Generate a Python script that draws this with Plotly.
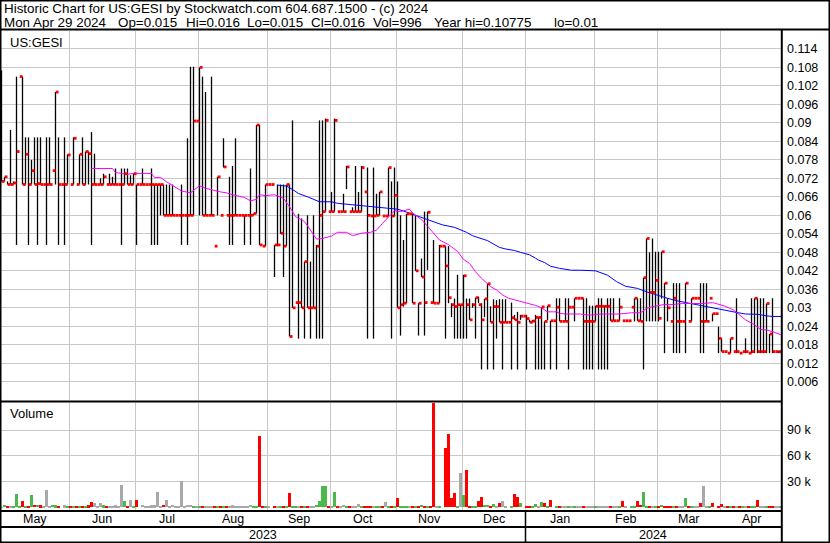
import pandas as pd
import plotly.graph_objects as go

# ---------------- data ----------------
dates = pd.bdate_range("2023-05-01", "2024-04-29")

high = [
0.107, 0.0725, 0.071, 0.0877, 0.071, 0.105, 0.105, 0.105, 0.0853, 0.0853,
0.078, 0.0853, 0.0853, 0.0853, 0.070, 0.0853, 0.0853, 0.0745, 0.100, 0.0853,
0.070, 0.0853, 0.0798, 0.070, 0.0853, 0.070, 0.0798, 0.0853, 0.0807, 0.0807,
0.087, 0.080, 0.070, 0.072, 0.0735, 0.070, 0.0735, 0.0725, 0.0752, 0.070,
0.0752, 0.0752, 0.0752, 0.073, 0.0735, 0.070, 0.070, 0.0752, 0.070, 0.070,
0.0752, 0.070, 0.070, 0.070, 0.070, 0.070, 0.070, 0.070, 0.060, 0.060,
0.070, 0.060, 0.085, 0.1082, 0.1082, 0.0906, 0.108, 0.105, 0.100, 0.060,
0.105, 0.050, 0.0725, 0.060, 0.085, 0.060, 0.0725, 0.076, 0.085, 0.060,
0.060, 0.060, 0.060, 0.0752, 0.0606, 0.0893, 0.0893, 0.050, 0.070, 0.070,
0.070, 0.0504, 0.070, 0.070, 0.070, 0.070, 0.070, 0.0908, 0.0317, 0.0605,
0.059, 0.045, 0.060, 0.045, 0.060, 0.0504, 0.0908, 0.0908, 0.0914, 0.0612,
0.0676, 0.0914, 0.0612, 0.0612, 0.067, 0.076, 0.0612, 0.0626, 0.076, 0.0676,
0.076, 0.0676, 0.0755, 0.0598, 0.0755, 0.067, 0.0676, 0.0598, 0.0598, 0.0755,
0.071, 0.0755, 0.071, 0.060, 0.052, 0.0605, 0.0605, 0.0605, 0.060, 0.0315,
0.046, 0.0612, 0.0612, 0.0317, 0.052, 0.0315, 0.0504, 0.050, 0.050, 0.050,
0.0315, 0.033, 0.0407, 0.031, 0.0407, 0.033, 0.033, 0.0315, 0.0333, 0.0336,
0.0315, 0.0329, 0.0378, 0.0305, 0.0328, 0.0325, 0.0328, 0.0328, 0.0328, 0.0253,
0.0317, 0.0277, 0.0287, 0.0277, 0.0273, 0.0277, 0.0261, 0.0261, 0.0277, 0.027,
0.030, 0.0256, 0.0307, 0.0258, 0.0258, 0.0331, 0.0331, 0.0256, 0.0331, 0.0331,
0.0302, 0.0331, 0.0331, 0.0331, 0.0331, 0.0331, 0.0307, 0.0307, 0.0307, 0.0331,
0.0331, 0.0307, 0.0331, 0.0331, 0.0331, 0.0258, 0.0331, 0.0258, 0.0258, 0.0258,
0.0302, 0.0331, 0.0331, 0.0331, 0.0398, 0.0525, 0.048, 0.0525, 0.0482, 0.0482,
0.0482, 0.038, 0.0331, 0.0256, 0.038, 0.038, 0.038, 0.0256, 0.038, 0.0256,
0.0331, 0.0331, 0.0331, 0.038, 0.038, 0.038, 0.0331, 0.0281, 0.0281, 0.0239,
0.0201, 0.0158, 0.0153, 0.0201, 0.0158, 0.0331, 0.0153, 0.0158, 0.0201, 0.0153,
0.0331, 0.0331, 0.0331, 0.0331, 0.0331, 0.0314, 0.0215, 0.0331, 0.0158, 0.016,
0.016]

low = [
0.071, 0.071, 0.070, 0.070, 0.070, 0.0504, 0.105, 0.070, 0.070, 0.0504,
0.070, 0.070, 0.0504, 0.070, 0.070, 0.0504, 0.070, 0.0745, 0.070, 0.0504,
0.070, 0.0504, 0.070, 0.070, 0.070, 0.070, 0.070, 0.070, 0.070, 0.070,
0.0504, 0.070, 0.070, 0.070, 0.070, 0.070, 0.070, 0.070, 0.070, 0.070,
0.0504, 0.070, 0.070, 0.070, 0.070, 0.0504, 0.070, 0.070, 0.070, 0.070,
0.0504, 0.0504, 0.0504, 0.060, 0.060, 0.060, 0.060, 0.060, 0.060, 0.060,
0.0504, 0.060, 0.0504, 0.060, 0.060, 0.0906, 0.060, 0.060, 0.060, 0.060,
0.060, 0.050, 0.060, 0.060, 0.0755, 0.060, 0.0504, 0.0504, 0.060, 0.060,
0.060, 0.0504, 0.060, 0.0504, 0.060, 0.0606, 0.0504, 0.050, 0.050, 0.070,
0.070, 0.040, 0.050, 0.054, 0.040, 0.050, 0.0207, 0.030, 0.0317, 0.020,
0.030, 0.020, 0.030, 0.020, 0.030, 0.020, 0.020, 0.020, 0.0612, 0.0612,
0.0612, 0.0612, 0.0612, 0.0612, 0.0612, 0.0685, 0.0612, 0.0612, 0.0612, 0.0612,
0.0612, 0.0676, 0.020, 0.0598, 0.020, 0.060, 0.060, 0.0598, 0.0598, 0.0598,
0.020, 0.0596, 0.030, 0.021, 0.0304, 0.0315, 0.0605, 0.0315, 0.042, 0.021,
0.040, 0.021, 0.0423, 0.0317, 0.0315, 0.0315, 0.0315, 0.050, 0.020, 0.0315,
0.027, 0.020, 0.020, 0.020, 0.020, 0.020, 0.0261, 0.030, 0.020, 0.0315,
0.010, 0.027, 0.010, 0.0253, 0.010, 0.020, 0.0253, 0.010, 0.0253, 0.0253,
0.010, 0.0261, 0.010, 0.0261, 0.0273, 0.010, 0.0253, 0.0253, 0.010, 0.010,
0.010, 0.010, 0.026, 0.010, 0.0258, 0.010, 0.0256, 0.0256, 0.0256, 0.010,
0.0302, 0.0256, 0.0331, 0.0331, 0.010, 0.010, 0.010, 0.010, 0.0256, 0.010,
0.010, 0.010, 0.010, 0.0258, 0.0258, 0.0258, 0.0258, 0.0258, 0.0258, 0.0258,
0.0302, 0.0256, 0.0258, 0.0256, 0.010, 0.0256, 0.0256, 0.0256, 0.0256, 0.0256,
0.033, 0.0153, 0.0256, 0.0256, 0.0153, 0.0153, 0.0153, 0.0256, 0.0153, 0.0256,
0.0256, 0.0331, 0.0331, 0.0153, 0.0153, 0.0256, 0.0331, 0.0256, 0.0281, 0.0153,
0.0158, 0.0158, 0.0153, 0.0153, 0.0158, 0.0153, 0.0153, 0.0158, 0.0153, 0.0153,
0.0153, 0.0153, 0.0153, 0.0153, 0.0153, 0.0153, 0.0153, 0.0153, 0.0158, 0.0153,
0.015]

close = [
0.071, 0.0725, 0.070, 0.070, 0.0705, 0.0807, 0.105, 0.070, 0.0798, 0.070,
0.0745, 0.070, 0.0703, 0.070, 0.070, 0.070, 0.070, 0.0745, 0.100, 0.070,
0.070, 0.070, 0.0796, 0.070, 0.085, 0.070, 0.0798, 0.070, 0.0807, 0.080,
0.070, 0.070, 0.070, 0.070, 0.0725, 0.070, 0.070, 0.070, 0.070, 0.070,
0.070, 0.0735, 0.070, 0.070, 0.0735, 0.070, 0.070, 0.070, 0.070, 0.070,
0.070, 0.070, 0.070, 0.070, 0.060, 0.060, 0.060, 0.060, 0.060, 0.060,
0.060, 0.060, 0.060, 0.060, 0.0906, 0.0906, 0.108, 0.060, 0.060, 0.060,
0.060, 0.050, 0.0725, 0.060, 0.0757, 0.060, 0.060, 0.060, 0.060, 0.060,
0.060, 0.060, 0.060, 0.060, 0.0606, 0.0893, 0.0504, 0.050, 0.070, 0.070,
0.070, 0.0504, 0.0504, 0.0542, 0.050, 0.070, 0.0207, 0.030, 0.0317, 0.0317,
0.030, 0.045, 0.030, 0.030, 0.030, 0.050, 0.060, 0.0612, 0.0908, 0.0612,
0.0612, 0.0908, 0.0612, 0.0612, 0.0612, 0.0757, 0.0612, 0.0612, 0.0612, 0.0612,
0.0755, 0.0676, 0.060, 0.0598, 0.0598, 0.060, 0.0676, 0.0598, 0.0598, 0.0755,
0.0598, 0.0665, 0.030, 0.031, 0.0315, 0.0605, 0.0605, 0.0315, 0.042, 0.0315,
0.040, 0.0317, 0.061, 0.0317, 0.0315, 0.0315, 0.050, 0.050, 0.0436, 0.0333,
0.031, 0.0304, 0.031, 0.031, 0.0404, 0.031, 0.0261, 0.031, 0.0333, 0.031,
0.0261, 0.0329, 0.0378, 0.0253, 0.0304, 0.0304, 0.0253, 0.0253, 0.0253, 0.0253,
0.0268, 0.0261, 0.0253, 0.0273, 0.0273, 0.0265, 0.0253, 0.0257, 0.0269, 0.0269,
0.0303, 0.0256, 0.0307, 0.0258, 0.0258, 0.0302, 0.0256, 0.0256, 0.0256, 0.0302,
0.0302, 0.0331, 0.0331, 0.0331, 0.0256, 0.0256, 0.0256, 0.0256, 0.0305, 0.0305,
0.0305, 0.0305, 0.0305, 0.0258, 0.0258, 0.0258, 0.0302, 0.0258, 0.0258, 0.0258,
0.0302, 0.0331, 0.0258, 0.0256, 0.0398, 0.0525, 0.035, 0.035, 0.0389, 0.0266,
0.0482, 0.038, 0.030, 0.0256, 0.0331, 0.0256, 0.0256, 0.0256, 0.038, 0.0256,
0.0331, 0.0331, 0.0331, 0.0256, 0.0256, 0.0256, 0.0331, 0.0281, 0.0281, 0.0201,
0.0158, 0.0158, 0.0153, 0.0201, 0.0158, 0.0158, 0.0153, 0.0158, 0.0158, 0.0153,
0.0158, 0.0331, 0.0158, 0.0158, 0.0158, 0.0314, 0.0215, 0.0158, 0.0158, 0.0158,
0.016]

volume = [
300, 3400, 500, 500, 1400, 16000, 1400, 7200, 500, 1400,
14200, 3400, 3400, 2300, 1400, 20800, 1400, 3400, 2300, 1400,
0, 2300, 1400, 500, 1400, 1400, 500, 500, 500, 2300,
6000, 5000, 500, 5000, 2300, 500, 1400, 500, 2300, 1400,
26600, 7200, 500, 8400, 500, 9200, 0, 3400, 500, 500,
2300, 2300, 17700, 500, 3400, 9200, 500, 3400, 500, 500,
30500, 500, 3400, 3400, 1400, 500, 500, 1400, 1400, 500,
1400, 500, 500, 1400, 500, 1400, 500, 2300, 1400, 500,
500, 500, 500, 3400, 500, 500, 83600, 800, 500, 500,
0, 800, 800, 500, 1000, 1000, 17200, 2000, 500, 500,
500, 1000, 500, 2000, 500, 3200, 7800, 25300, 25300, 2000,
1500, 18400, 500, 500, 3200, 500, 500, 2000, 500, 4000,
500, 500, 500, 500, 500, 500, 1000, 500, 6700, 500,
1500, 500, 11400, 1000, 1000, 2000, 500, 2000, 500, 1000,
2500, 1500, 500, 500, 125000, 500, 2000, 0, 69600, 86000,
11400, 17200, 1000, 40500, 14900, 44000, 1500, 500, 500, 7800,
12500, 3200, 3200, 1500, 4000, 500, 5000, 7800, 2000, 0,
1500, 15200, 11700, 4700, 0, 900, 500, 500, 3600, 500,
6700, 4700, 500, 8600, 0, 500, 500, 500, 500, 500,
500, 2000, 500, 500, 500, 500, 1200, 500, 500, 2000,
500, 1200, 1000, 500, 500, 500, 500, 7900, 500, 0,
500, 500, 7900, 2600, 18400, 500, 500, 1200, 500, 500,
2600, 1200, 1500, 500, 500, 500, 500, 500, 10600, 500,
500, 500, 1200, 4700, 25300, 500, 500, 5600, 0, 1200,
3600, 500, 500, 1200, 500, 1200, 500, 500, 1200, 500,
1200, 500, 9000, 500, 1200, 500, 500, 500, 500, 500,
996]

# moving averages, sampled along the drawn lines (day index, value)
ma_short_day = [30, 37, 38, 42, 44, 50, 51, 53, 55, 57, 60, 63, 64, 66, 68, 71, 73, 75, 77, 81,
                83, 85, 86, 88, 91, 93, 94, 96, 98, 101, 103, 105, 107, 110, 112, 115, 117, 120, 123, 125,
                127, 129, 131, 133, 136, 137, 140, 142, 144, 146, 149, 152, 154, 156, 158, 160, 163, 165, 167, 169,
                171, 173, 176, 178, 180, 182, 185, 186, 188, 193, 195, 197, 200, 203, 206, 210, 213, 215, 217, 221,
                224, 227, 231, 234, 237, 241, 244, 246, 248, 251, 253, 255, 257, 260]
ma_short_val = [.0752, .0752, .0739, .0733, .0736, .0736, .0723, .0723, .0709, .0698, .0679, .0673, .0680, .0696, .0688,
                .0680, .0676, .0673, .0667, .0658, .0647, .0652, .0667, .0664, .0667, .0659, .0655, .0628, .0596, .058,
                .0552, .0523, .0525, .0533, .0545, .0545, .0534, .0542, .0545, .0552, .0574, .0596, .0615, .0612, .062,
                .0608, .0586, .0565, .0542, .052, .0505, .0483, .0457, .0444, .0417, .0396, .0369, .0358, .0342, .0331,
                .0326, .032, .0313, .0308, .030, .0287, .0287, .0282, .028, .028, .0277, .0277, .028, .028, .028,
                .0284, .0284, .0298, .0304, .0311, .0311, .0314, .0314, .0314, .0317, .0306, .0293, .0277, .0261, .0245,
                .023, .0228, .0223, .0212]
ma_long_day = [92, 95, 97, 99, 102, 104, 106, 108, 110, 112, 115, 118, 122, 125, 128, 132, 134, 136, 138, 141,
               144, 147, 151, 153, 155, 157, 160, 162, 164, 166, 168, 171, 173, 176, 178, 179, 181, 183, 186, 190,
               193, 198, 202, 205, 208, 212, 215, 218, 222, 225, 228, 232, 235, 238, 242, 245, 248, 252, 255, 257, 260]
ma_long_val = [.0698, .0695, .0684, .0671, .066, .0652, .0644, .0644, .0644, .0639, .0636, .0632, .0628, .0625, .0622,
               .062, .0614, .0607, .0598, .059, .0577, .0569, .0561, .0553, .0545, .0534, .0523, .0518, .0507, .0496,
               .0491, .0486, .048, .0472, .0461, .0455, .0447, .0435, .0428, .0422, .0422, .042, .0406, .0385, .037,
               .0363, .0352, .0342, .0331, .0323, .0317, .0309, .0304, .0299, .029, .0285, .028, .0279, .0274, .0272, .0272]

price_ticks = [0.006, 0.012, 0.018, 0.024, 0.03, 0.036, 0.042, 0.048, 0.054, 0.06,
               0.066, 0.072, 0.078, 0.084, 0.09, 0.096, 0.102, 0.108, 0.114]
price_tick_text = ["0.006", "0.012", "0.018", "0.024", "0.03", "0.036", "0.042", "0.048", "0.054", "0.06",
                   "0.066", "0.072", "0.078", "0.084", "0.09", "0.096", "0.102", "0.108", "0.114"]
vol_ticks = [30000, 60000, 90000]
vol_tick_text = ["30 k", "60 k", "90 k"]

title1 = "Historic Chart for US:GESI by Stockwatch.com 604.687.1500 - (c) 2024"
title2_fields = ["Mon Apr 29 2024", "Op=0.015", "Hi=0.016", "Lo=0.015", "Cl=0.016", "Vol=996",
                 "Year hi=0.10775", "lo=0.01"]

# ---------------- geometry / style ----------------
W, H = 830, 543
ML, MR, MT, MB = 1, 49, 31, 33
PW, PH = W - ML - MR, H - MT - MB
FONT = "Liberation Sans, Arial, sans-serif"
GRID = "#c8c8c8"
TITLE_SIZE = 13.4
title2_px = [2, 116, 184, 245, 309, 371, 432, 552]   # left edge (px) of each header field


def fx(px):
    return (px - ML) / PW


def fy(py):
    return (H - MB - py) / PH


n = len(dates)
days = list(range(n))
XR = [-0.167, 259.83]

# month boundaries / labels
month_first = [0] + [i for i in range(1, n) if dates[i].month != dates[i - 1].month]
month_last = [i - 1 for i in month_first[1:]] + [n - 1]
bounds = [i - 0.5 for i in month_first[1:]]

# high-low line segments
seg_x, seg_y = [], []
for d, h, l in zip(days, high, low):
    seg_x += [d, d, None]
    seg_y += [l, h, None]

vol_colors = ["#a8a8a8"]
for i in range(1, n):
    if close[i] > close[i - 1] + 1e-9:
        vol_colors.append("#4cb84c")
    elif close[i] < close[i - 1] - 1e-9:
        vol_colors.append("#ff0000")
    else:
        vol_colors.append("#a8a8a8")

fig = go.Figure()
fig.add_trace(go.Scatter(x=seg_x, y=seg_y, mode="lines", line=dict(color="black", width=1.3),
                         xaxis="x", yaxis="y", hoverinfo="skip"))
fig.add_trace(go.Scatter(x=ma_long_day, y=ma_long_val, mode="lines", line=dict(color="#0000ff", width=1),
                         xaxis="x", yaxis="y"))
fig.add_trace(go.Scatter(x=ma_short_day, y=ma_short_val, mode="lines", line=dict(color="#ff00ff", width=1),
                         xaxis="x", yaxis="y"))
fig.add_trace(go.Scatter(x=days, y=close, mode="markers",
                         marker=dict(symbol="square", size=2.8, color="#ff0000", line=dict(width=0)),
                         xaxis="x3", yaxis="y"))
fig.add_trace(go.Bar(x=days, y=volume, marker=dict(color=vol_colors, line=dict(width=0)), width=0.68,
                     xaxis="x2", yaxis="y2"))

axis_common = dict(tickmode="array", tickvals=bounds, showticklabels=False, showgrid=True,
                   gridcolor=GRID, gridwidth=1, zeroline=False, ticks="", showline=False,
                   range=XR, fixedrange=True)
price_bottom = fy(400)
vol_top = fy(403)

fig.update_layout(
    width=W, height=H,
    margin=dict(l=ML, r=MR, t=MT, b=MB, pad=0),
    paper_bgcolor="white", plot_bgcolor="white",
    showlegend=False, bargap=0,
    font=dict(family=FONT, color="black"),
    xaxis=dict(domain=[0, 1], anchor="y", **axis_common),
    xaxis2=dict(domain=[0, 1], anchor="y2", **axis_common),
    xaxis3=dict(overlaying="x", anchor="y", visible=False,
                range=[XR[0] - 0.55, XR[1] - 0.55], fixedrange=True),
    yaxis=dict(domain=[price_bottom, 1], anchor="x", side="right", range=[0.0001, 0.1198],
               tickmode="array", tickvals=price_ticks, ticktext=price_tick_text,
               showgrid=True, gridcolor=GRID, gridwidth=1, zeroline=False, ticks="",
               ticklabelstandoff=5, tickfont=dict(size=12.5, family=FONT, color="black"),
               showline=False, fixedrange=True),
    yaxis2=dict(domain=[0, vol_top], anchor="x2", side="right", range=[-3000, 121500],
                tickmode="array", tickvals=vol_ticks, ticktext=vol_tick_text,
                showgrid=True, gridcolor=GRID, gridwidth=1, zeroline=False, ticks="",
                ticklabelstandoff=5, tickfont=dict(size=12.5, family=FONT, color="black"),
                showline=False, fixedrange=True),
)

# frame lines
def hline(py, x0, x1, w=2):
    return dict(type="line", xref="paper", yref="paper", x0=fx(x0), x1=fx(x1), y0=fy(py), y1=fy(py),
                line=dict(color="black", width=w))


def vline(px, y0, y1, w=2):
    return dict(type="line", xref="paper", yref="paper", x0=fx(px), x1=fx(px), y0=fy(y0), y1=fy(y1),
                line=dict(color="black", width=w))


shapes = [
    dict(type="rect", xref="paper", yref="paper", x0=fx(0.75), x1=fx(829.25), y0=fy(542.25), y1=fy(0.75),
         line=dict(color="black", width=1.5)),
    hline(29.5, 0, 830),
    hline(401.5, 0, 782),
    hline(511, 0, 782),
    hline(527, 0, 782),
    vline(525.5, 511, 542, 1.5),
    vline(781.8, 29.5, 543),
]
fig.update_layout(shapes=shapes)

ann = []
ann.append(dict(text=title1, xref="paper", yref="paper", x=fx(2), y=fy(8.5), xanchor="left", yanchor="middle",
                showarrow=False, font=dict(size=TITLE_SIZE, family=FONT, color="black")))
for txt, px in zip(title2_fields, title2_px):
    ann.append(dict(text=txt, xref="paper", yref="paper", x=fx(px), y=fy(22.5), xanchor="left",
                    yanchor="middle", showarrow=False, font=dict(size=TITLE_SIZE, family=FONT, color="black")))
ann.append(dict(text="US:GESI", xref="paper", yref="paper", x=fx(8), y=fy(42), xanchor="left", yanchor="middle",
                showarrow=False, font=dict(size=13, family=FONT, color="black")))
ann.append(dict(text="Volume", xref="paper", yref="paper", x=fx(8), y=fy(413), xanchor="left", yanchor="middle",
                showarrow=False, font=dict(size=13, family=FONT, color="black")))
for f, l in zip(month_first, month_last):
    ann.append(dict(text=dates[f].strftime("%b"), xref="x2", yref="paper", x=(f + l) / 2, y=fy(518.5),
                    xanchor="center", yanchor="middle", showarrow=False,
                    font=dict(size=12.5, family=FONT, color="black")))
years = sorted(set(d.year for d in dates))
for yv in years:
    idx = [i for i, d in enumerate(dates) if d.year == yv]
    lo_i, hi_i = idx[0] - 0.5, min(idx[-1] + 0.5, XR[1])
    ann.append(dict(text=str(yv), xref="x2", yref="paper", x=(lo_i + hi_i) / 2, y=fy(534.5),
                    xanchor="center", yanchor="middle", showarrow=False,
                    font=dict(size=12.5, family=FONT, color="black")))
fig.update_layout(annotations=ann)

fig.write_html(
    "out.html",
    config={"displayModeBar": False},
    post_script="document.body.style.margin='0px';document.body.style.padding='0px';"
                "document.body.style.overflow='hidden';",
)
